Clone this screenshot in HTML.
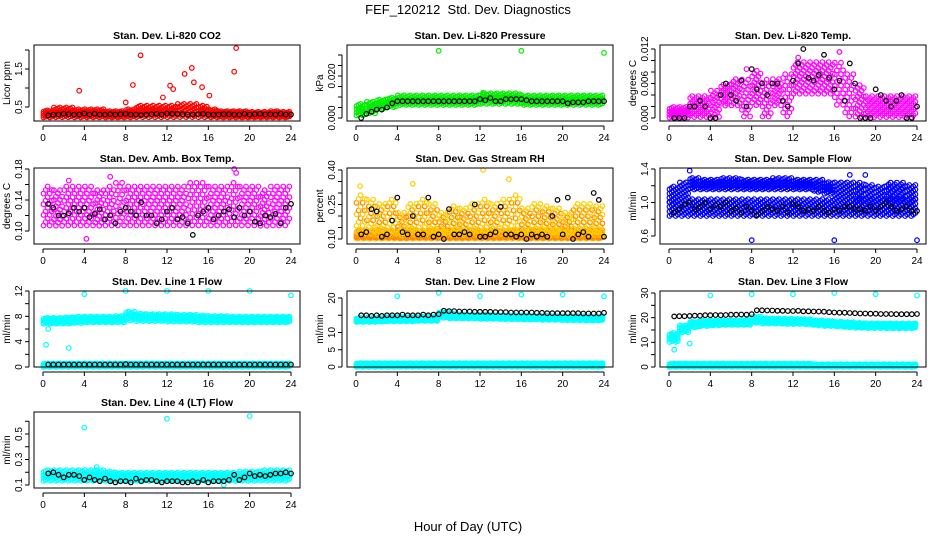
<!DOCTYPE html>
<html><head><meta charset="utf-8">
<style>
html,body{margin:0;padding:0;background:#fff;}
svg{display:block;font-family:"Liberation Sans",sans-serif;}
</style></head>
<body>
<svg id="chart" width="936" height="540" viewBox="0 0 936 540" xmlns="http://www.w3.org/2000/svg">
<rect width="936" height="540" fill="#fff"/>
<text x="468" y="14" text-anchor="middle" font-size="13">FEF_120212&#160; Std. Dev. Diagnostics</text>
<text x="468" y="531" text-anchor="middle" font-size="13">Hour of Day (UTC)</text>
</svg>
<script>
// ---- data ----
const xTicks = [0,4,8,12,16,20,24];
const panelTitles = ["Stan. Dev. Li-820 CO2","Stan. Dev. Li-820 Pressure","Stan. Dev. Li-820 Temp.","Stan. Dev. Amb. Box Temp.","Stan. Dev. Gas Stream RH","Stan. Dev. Sample Flow","Stan. Dev. Line 1 Flow","Stan. Dev. Line 2 Flow","Stan. Dev. Line 3 Flow","Stan. Dev. Line 4 (LT) Flow"];
const yAxisTitles = ["Licor ppm","kPa","degrees C","degrees C","percent","ml/min","ml/min","ml/min","ml/min","ml/min"];
const yTicks = [[0.5,1.0,1.5,2.0],[0,0.005,0.01,0.015,0.02,0.025,0.03],[0,0.002,0.004,0.006,0.008,0.01,0.012],[0.1,0.12,0.14,0.16,0.18],[0.1,0.15,0.2,0.25,0.3,0.35,0.4],[0.6,0.8,1.0,1.2,1.4],[0,2,4,6,8,10,12],[0,5,10,15,20],[0,5,10,15,20,25,30],[0.1,0.2,0.3,0.4,0.5,0.6]];
const yTickLabels = [["0.5","","1.5",""],["0.000","","","","0.020","",""],["0.000","","","0.006","","","0.012"],["0.10","","0.14","","0.18"],["0.10","","","0.25","","","0.40"],["0.6","","1.0","","1.4"],["0","","4","","8","","12"],["0","5","10","","20"],["0","","10","","20","","30"],["0.1","","0.3","","0.5",""]];
const blackTimes = [0.5,1,1.5,2,2.5,3,3.5,4,4.5,5,5.5,6,6.5,7,7.5,8,8.5,9,9.5,10,10.5,11,11.5,12,12.5,13,13.5,14,14.5,15,15.5,16,16.5,17,17.5,18,18.5,19,19.5,20,20.5,21,21.5,22,22.5,23,23.5,24];
const blackValues = [
[0.28,0.3,0.3,0.32,0.31,0.3,0.3,0.33,0.3,0.32,0.3,0.3,0.31,0.3,0.31,0.32,0.3,0.3,0.29,0.3,0.31,0.32,0.3,0.33,0.32,0.32,0.31,0.3,0.3,0.31,0.32,0.3,0.3,0.3,0.31,0.31,0.3,0.3,0.32,0.3,0.31,0.32,0.3,0.31,0.3,0.32,0.3,0.3],
[0.000,0.002,0.003,0.004,0.004,0.005,0.007,0.008,0.008,0.008,0.008,0.008,0.008,0.008,0.008,0.008,0.008,0.008,0.008,0.008,0.008,0.008,0.008,0.009,0.0085,0.0095,0.008,0.008,0.009,0.009,0.009,0.009,0.0085,0.008,0.008,0.008,0.008,0.008,0.008,0.008,0.007,0.0075,0.0075,0.0075,0.008,0.008,0.008,0.008],
[0,0,0,0.002,0.002,0.003,0.002,0,0,0.004,0.006,0.004,0.003,0.0065,0.002,0.0085,0.005,0.006,0.004,0.006,0.006,0.003,0.002,0.0065,0.0095,0.012,0.007,0.0065,0.0075,0.011,0.007,0.005,0.0065,0.003,0.0095,0.006,0,0,0,0.005,0.004,0.003,0.002,0.003,0.004,0,0,0.002],
[0.135,0.13,0.12,0.12,0.123,0.13,0.125,0.13,0.118,0.122,0.128,0.115,0.12,0.11,0.125,0.13,0.125,0.12,0.137,0.12,0.12,0.11,0.115,0.125,0.13,0.115,0.118,0.11,0.095,0.12,0.125,0.13,0.115,0.12,0.125,0.128,0.118,0.13,0.12,0.125,0.112,0.11,0.12,0.118,0.122,0.11,0.13,0.135],
[0.12,0.13,0.23,0.22,0.11,0.12,0.18,0.28,0.13,0.12,0.2,0.12,0.12,0.28,0.11,0.12,0.1,0.23,0.12,0.12,0.13,0.12,0.25,0.11,0.11,0.12,0.13,0.24,0.12,0.12,0.11,0.12,0.1,0.12,0.11,0.12,0.11,0.2,0.27,0.12,0.28,0.1,0.12,0.13,0.11,0.3,0.27,0.11],
[0.88,0.92,0.98,1.0,0.92,0.95,1.0,0.92,0.97,0.95,1.0,0.9,0.93,0.88,0.95,0.9,0.85,0.9,0.95,0.92,0.9,0.95,0.88,0.98,0.95,0.9,0.92,0.9,0.95,0.9,0.88,0.92,0.9,0.95,0.95,0.92,0.92,0.9,0.95,0.9,0.95,1.0,0.95,0.9,0.92,0.95,0.9,0.9],
[0.4,0.4,0.4,0.4,0.4,0.4,0.4,0.4,0.4,0.4,0.4,0.4,0.4,0.4,0.4,0.45,0.4,0.4,0.4,0.4,0.4,0.4,0.4,0.4,0.4,0.4,0.4,0.4,0.4,0.4,0.4,0.4,0.4,0.4,0.4,0.4,0.4,0.4,0.4,0.4,0.4,0.4,0.4,0.4,0.4,0.4,0.4,0.4],
[15,15,14.8,15,14.8,15,15,15,15.2,15,15,15,15.2,15,15.2,15.3,16.3,16.2,16.2,16.1,16.1,16.1,16,16,16,16,15.9,15.9,15.9,15.8,15.8,15.8,15.8,15.8,15.7,15.7,15.6,15.6,15.6,15.6,15.6,15.6,15.6,15.5,15.5,15.5,15.5,15.7],
[20.5,20.6,20.6,20.7,20.8,20.8,21,21,21.1,21,21.1,21.2,21.2,21.3,21.2,21.4,23,23,22.9,22.9,22.8,22.8,22.7,22.7,22.8,22.6,22.6,22.5,22.5,22.4,22.2,22.1,22,22,21.9,21.8,21.7,21.7,21.6,21.6,21.5,21.5,21.5,21.4,21.4,21.4,21.4,21.5],
[0.19,0.2,0.18,0.16,0.18,0.18,0.17,0.14,0.16,0.14,0.13,0.15,0.13,0.12,0.13,0.13,0.12,0.15,0.13,0.14,0.14,0.13,0.12,0.13,0.13,0.13,0.12,0.12,0.13,0.12,0.14,0.12,0.13,0.13,0.13,0.14,0.18,0.14,0.16,0.19,0.17,0.18,0.17,0.18,0.19,0.19,0.2,0.19]
];
// hourly band limits of the dense coloured clouds (hour 0..23)
const band1Lo = [
[0.22,0.22,0.22,0.22,0.22,0.22,0.22,0.22,0.22,0.22,0.22,0.22,0.22,0.22,0.22,0.22,0.22,0.22,0.22,0.22,0.22,0.22,0.22,0.22],
[0.001,0.002,0.004,0.005,0.006,0.006,0.006,0.006,0.006,0.006,0.006,0.006,0.0065,0.0065,0.0065,0.0065,0.006,0.006,0.006,0.006,0.006,0.006,0.006,0.006],
[0,0,0,0,0,0.002,0.002,0,0.002,0,0.002,0,0.004,0.004,0.004,0.004,0.002,0,0,0,0,0,0,0],
[0.105,0.105,0.105,0.105,0.105,0.105,0.105,0.105,0.105,0.105,0.105,0.105,0.105,0.105,0.105,0.105,0.105,0.105,0.105,0.105,0.105,0.105,0.105,0.105],
[0.1,0.1,0.1,0.1,0.1,0.1,0.1,0.1,0.1,0.1,0.1,0.1,0.1,0.1,0.1,0.1,0.1,0.1,0.1,0.1,0.1,0.1,0.1,0.1],
[1.0,1.05,1.15,1.15,1.15,1.15,1.15,1.15,1.15,1.15,1.15,1.15,1.15,1.15,1.12,1.1,1.05,1.05,1.0,1.0,1.0,1.0,1.0,1.0],
[6.8,6.8,6.8,6.9,7.0,7.0,7.0,7.0,7.3,7.2,7.2,7.2,7.1,7.1,7.1,7.0,7.0,7.0,7.0,7.0,7.0,7.0,7.0,7.0],
[13,13,13.1,13.2,13.2,13.2,13.3,13.3,14.2,14,14,14,13.9,13.9,13.8,13.8,13.7,13.7,13.6,13.6,13.5,13.5,13.4,13.4],
[10,14,16,16.5,16.8,17,17,17,17.8,17.5,17.5,17.3,17.3,17.2,16.8,16.5,16.3,16,15.8,15.7,15.7,15.6,15.6,15.6],
[0.13,0.13,0.13,0.13,0.13,0.13,0.13,0.13,0.13,0.13,0.13,0.13,0.13,0.13,0.13,0.13,0.13,0.13,0.13,0.13,0.13,0.13,0.13,0.13]
];
const band1Hi = [
[0.42,0.5,0.5,0.45,0.45,0.45,0.4,0.4,0.45,0.55,0.55,0.55,0.55,0.6,0.6,0.55,0.45,0.4,0.4,0.4,0.38,0.38,0.4,0.38],
[0.007,0.008,0.009,0.010,0.011,0.011,0.011,0.011,0.011,0.011,0.011,0.011,0.012,0.012,0.012,0.012,0.011,0.011,0.011,0.011,0.011,0.011,0.011,0.011],
[0.002,0.002,0.004,0.004,0.005,0.006,0.007,0.007,0.008,0.007,0.007,0.008,0.010,0.010,0.010,0.010,0.010,0.008,0.006,0.004,0.004,0.004,0.004,0.004],
[0.16,0.155,0.16,0.16,0.16,0.155,0.16,0.165,0.16,0.16,0.16,0.16,0.16,0.16,0.165,0.165,0.16,0.16,0.165,0.16,0.16,0.155,0.16,0.16],
[0.3,0.28,0.26,0.28,0.22,0.26,0.28,0.26,0.22,0.25,0.24,0.26,0.28,0.26,0.28,0.3,0.24,0.26,0.25,0.24,0.22,0.26,0.26,0.25],
[1.2,1.25,1.3,1.28,1.28,1.3,1.3,1.28,1.28,1.28,1.3,1.3,1.28,1.28,1.28,1.25,1.25,1.25,1.25,1.22,1.2,1.25,1.25,1.22],
[7.8,7.8,7.9,8.0,8.0,8.0,8.0,8.1,8.8,8.5,8.4,8.4,8.4,8.3,8.3,8.2,8.1,8.1,8.0,8.0,8.0,8.0,8.0,8.0],
[14.3,14.3,14.4,14.5,14.6,14.6,14.6,14.6,16,15.5,15.3,15.2,15.2,15.1,15,15,15,14.9,14.9,14.8,14.8,14.8,14.8,14.8],
[14,17,18.5,19,19,19,19,19.2,20.5,20,19.8,19.7,19.6,19.5,19,18.8,18.5,18.3,18,17.8,17.8,17.8,17.8,17.8],
[0.22,0.22,0.22,0.22,0.22,0.22,0.21,0.2,0.2,0.2,0.2,0.2,0.2,0.2,0.2,0.2,0.2,0.2,0.2,0.21,0.21,0.22,0.22,0.22]
];
const band2Lo = [null,null,null,null,[0.1,0.1,0.1,0.1,0.1,0.1,0.1,0.1,0.1,0.1,0.1,0.1,0.1,0.1,0.1,0.1,0.1,0.1,0.1,0.1,0.1,0.1,0.1,0.1],
[0.83,0.83,0.83,0.83,0.83,0.83,0.83,0.83,0.83,0.83,0.83,0.83,0.83,0.83,0.83,0.83,0.83,0.83,0.83,0.83,0.83,0.83,0.83,0.83],
[0,0,0,0,0,0,0,0,0,0,0,0,0,0,0,0,0,0,0,0,0,0,0,0],
[0,0,0,0,0,0,0,0,0,0,0,0,0,0,0,0,0,0,0,0,0,0,0,0],
[0,0,0,0,0,0,0,0,0,0,0,0,0,0,0,0,0,0,0,0,0,0,0,0],null];
const band2Hi = [null,null,null,null,[0.14,0.14,0.14,0.14,0.14,0.14,0.14,0.14,0.14,0.14,0.14,0.14,0.14,0.14,0.14,0.14,0.14,0.14,0.14,0.14,0.14,0.14,0.14,0.14],
[1.05,1.05,1.05,1.05,1.05,1.05,1.05,1.05,1.05,1.05,1.05,1.05,1.05,1.05,1.05,1.05,1.05,1.05,1.05,1.05,1.05,1.05,1.05,1.05],
[0.6,0.6,0.6,0.6,0.6,0.6,0.6,0.6,0.6,0.6,0.6,0.6,0.6,0.6,0.6,0.6,0.6,0.6,0.6,0.6,0.6,0.6,0.6,0.6],
[1.2,1.2,1.2,1.2,1.2,1.2,1.2,1.2,1.2,1.2,1.2,1.2,1.2,1.2,1.2,1.2,1.2,1.2,1.2,1.2,1.2,1.2,1.2,1.2],
[1.5,1.5,1.5,1.5,1.5,1.5,1.5,1.5,1.5,1.5,1.5,1.5,1.5,1.5,1.2,1.2,1.2,1.2,1.2,1.2,1.2,1.2,1.2,1.2],null];
const outlierTimes = [[3.5,8.7,9.45,12.3,12.6,13.7,14.4,14.6,15.4,16.1,18.5,18.7,11.6,8.0],[8,16,24,12.3],[7.5,8.5,12.5,16.5],[4.2,18.5,18.7,2.5,6.5],[12.3,14.8,0.4,5.5],[8,16,24,2,19,17.5],[4,8,12,16,20,24,0.3,2.5,0.5],[4,8,12,16,20,24],[4,8,12,16,20,24,0.5,2,0.3],[4,12,20,5.2,17.5]];
const outlierValues = [[0.93,1.08,1.86,1.06,0.97,1.37,1.53,1.15,1.02,0.8,1.43,2.05,0.75,0.62],[0.032,0.032,0.031,0.012],[0.0085,0.0082,0.0105,0.0115],[0.09,0.18,0.175,0.165,0.17],[0.4,0.36,0.33,0.34],[0.55,0.55,0.55,1.38,1.33,1.33],[11.5,12,12,12,12,11.3,3.5,3,6],[20.5,21.5,20.5,21,21,20.5],[29,29.5,29.5,30,29.5,29,7,9.5,13],[0.55,0.62,0.64,0.24,0.1]];
// ---- styles/geometry (not data) ----
const colors = ["#ff0000","#00ee00","#ff00ff","#ff00ff","#ffcc00","#0000ff","#00ffff","#00ffff","#00ffff","#00ffff"];
const colors2 = [null,null,null,null,"#ff8800","#0000ff","#00ffff","#00ffff","#00ffff",null];
const colLeft = [34,347,660], rowTop = [45,168,291,412], PW = 266, PH = 76;
const yMap = [[0.5,62,1.5,24],[0,73,0.02,31],[0,73,0.012,4],[0.1,63,0.18,1],[0.1,71,0.4,2],[0.6,68,1.4,1],[0,76,12,0],[0,76,20,7],[0,76,30,2],[0.1,73,0.5,22]];

const NS="http://www.w3.org/2000/svg";
const svg=document.getElementById('chart');
function mk(tag,attrs,parent){const e=document.createElementNS(NS,tag);for(const k in attrs)e.setAttribute(k,attrs[k]);(parent||svg).appendChild(e);return e;}

for(let p=0;p<10;p++){
  const L=colLeft[p%3], T=rowTop[Math.floor(p/3)];
  const xs=h=>L+9+h/24*248;
  const m=yMap[p];
  const ys=v=>T+m[1]+(v-m[0])*(m[3]-m[1])/(m[2]-m[0]);
  const g=mk('g',{});
  
  
  const t=mk('text',{x:L+PW/2,y:T-6,'text-anchor':'middle','font-size':'10.5','font-weight':'bold'},g);
  t.textContent=panelTitles[p];
  
  
  const yt=mk('text',{transform:`translate(${L-24},${T+PH/2}) rotate(-90)`,'text-anchor':'middle','font-size':'10'},g);
  yt.textContent=yAxisTitles[p];
  
  
  const marks=mk('g',{fill:'none','stroke-width':'1.2'},g);
  
  
  const circ=(h,v,c)=>{const y=ys(v);if(y<T-2||y>T+PH+2)return;const e=mk('circle',{cx:xs(h).toFixed(1),cy:y.toFixed(1),r:2.3,stroke:c},marks);};
  const drawBand=(lo,hi,col,colB)=>{
    let k=0;
    for(let h=0.05;h<24;h+=0.2,k++){
      const i=Math.min(23,Math.floor(h));
      const rows=4;
      for(let r=0;r<rows;r++){
        const f=(r+((k%3)*0.33+0.15))/rows;
        circ(h,lo[i]+(hi[i]-lo[i])*f,(colB&&(r+k)%3===0)?colB:col);
      }
    }
  };
  if(band2Lo[p]) drawBand(band2Lo[p],band2Hi[p],colors2[p]||colors[p],p===4?colors[p]:null);
  drawBand(band1Lo[p],band1Hi[p],colors[p],p===4?colors2[p]:null);
  outlierTimes[p].forEach((h,i)=>circ(h,outlierValues[p][i],colors[p]));
  blackTimes.forEach((h,i)=>circ(h,blackValues[p][i],'#000'));
  const fr=mk('rect',{x:L,y:T,width:PW,height:PH,fill:'none',stroke:'#000','stroke-width':'1'},g);
  
  
  mk('line',{x1:xs(0),x2:xs(24),y1:T+PH+5,y2:T+PH+5,stroke:'#000'},g);
  xTicks.forEach(v=>{
    mk('line',{x1:xs(v),x2:xs(v),y1:T+PH+5,y2:T+PH+9,stroke:'#000'},g);
    const tl=mk('text',{x:xs(v),y:T+PH+20,'text-anchor':'middle','font-size':'10'},g);
    tl.textContent=v;
    
    
  });
  const yv=yTicks[p];
  mk('line',{x1:L-5,x2:L-5,y1:ys(yv[0]),y2:ys(yv[yv.length-1]),stroke:'#000'},g);
  yv.forEach((v,i)=>{
    mk('line',{x1:L-9,x2:L-5,y1:ys(v),y2:ys(v),stroke:'#000'},g);
    if(yTickLabels[p][i]){
      const tl=mk('text',{transform:`translate(${L-12},${ys(v)}) rotate(-90)`,'text-anchor':'middle','font-size':'10'},g);
      tl.textContent=yTickLabels[p][i];
      
      
    }
  });
}
</script>
</body></html>
